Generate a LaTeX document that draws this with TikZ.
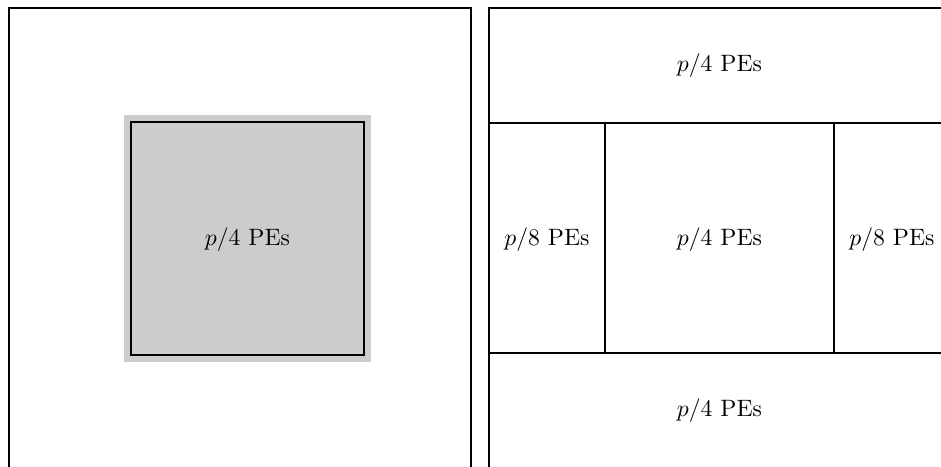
\documentclass[tikz,border=0pt]{standalone}
\definecolor{greyfill}{HTML}{CCCCCC}
\begin{document}
\begin{tikzpicture}[x=0.422pt,y=-0.422pt,
  frame/.style={line width=0.85pt, line cap=rect},
  thinline/.style={line width=0.45pt},
  lbl/.style={inner sep=0pt, font=\normalsize}]
\useasboundingbox (0,0) rectangle (941,466);
% left panel
\draw[frame, line cap=butt] (9,470) -- (9,8) -- (471,8) -- (471,470);
\fill[greyfill] (124,115) rectangle (371,362);
\draw[line width=0.85pt, fill=greyfill] (131,122) rectangle (364,355);
\node[lbl] (lt) at (247.5,240) {$p/4$ PEs};
% right panel
\draw[frame, line cap=butt] (489,470) -- (489,8) -- (945,8);
\draw[frame] (489,123) -- (605,123) -- (605,353) -- (489,353);
\draw[thinline] (605,123) -- (834,123);
\draw[thinline] (605,353) -- (834,353);
\draw[frame, line cap=butt] (945,123) -- (834,123) -- (834,353) -- (945,353);
\node[lbl] (rtop) at (719.5,66) {$p/4$ PEs};
\node[lbl] (rmid) at (719.5,240) {$p/4$ PEs};
\node[lbl] (rbot) at (719.5,411) {$p/4$ PEs};
\node[lbl] (rleft) at (547,240) {$p/8$ PEs};
\node[lbl] (rright) at (892,240) {$p/8$ PEs};
\end{tikzpicture}
\end{document}
